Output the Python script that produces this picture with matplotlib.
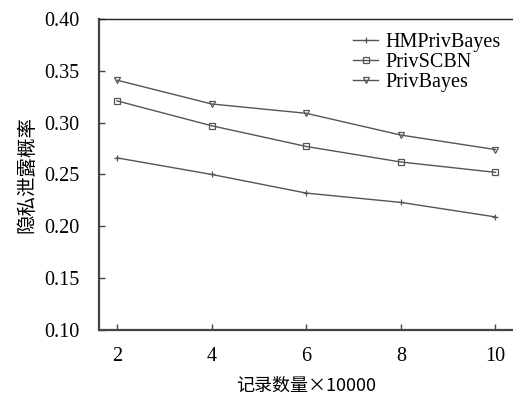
import matplotlib
matplotlib.use("Agg")
import matplotlib.pyplot as plt

# data
records = [2, 4, 6, 8, 10]
hm_privbayes = [0.266, 0.250, 0.232, 0.223, 0.209]
priv_scbn = [0.321, 0.297, 0.277, 0.262, 0.252]
priv_bayes = [0.341, 0.318, 0.309, 0.288, 0.274]
yticks = [0.10, 0.15, 0.20, 0.25, 0.30, 0.35, 0.40]
xticks = [2, 4, 6, 8, 10]

serif = ["Liberation Serif", "DejaVu Serif"]
cjk = ["Noto Sans CJK SC", "Liberation Serif"]

fig = plt.figure(figsize=(5.13, 3.96), dpi=100)
ax = fig.add_axes([0.193, 0.167, 0.807, 0.785])

line_col = "#555555"
ax.plot(records, hm_privbayes, color=line_col, lw=1.0, marker="+",
        ms=5, mew=0.9, label="HMPrivBayes")
ax.plot(records, priv_scbn, color=line_col, lw=1.0, marker="s",
        ms=4.5, mfc="none", mew=0.9, label="PrivSCBN")
ax.plot(records, priv_bayes, color=line_col, lw=1.0, marker="v",
        ms=5, mfc="none", mew=0.9, label="PrivBayes")

ax.set_xlim(1.62, 10.37)
ax.set_ylim(0.10, 0.40)
ax.set_xticks(xticks)
ax.set_yticks(yticks)
ax.set_yticklabels([f"{v:.2f}" for v in yticks])

for lab in ax.get_xticklabels() + ax.get_yticklabels():
    lab.set_fontfamily(serif)
    lab.set_fontsize(14.5)

ax.tick_params(direction="in", length=4, width=1.0, color="#444444")
ax.tick_params(axis="y", pad=14)
ax.tick_params(axis="x", pad=12)

ax.spines["right"].set_visible(False)
ax.spines["top"].set_linewidth(1.0)
ax.spines["top"].set_color("#222222")
for s in ["left", "bottom"]:
    ax.spines[s].set_linewidth(1.6)
    ax.spines[s].set_color("#444444")

ax.set_xlabel("记录数量×10000", family=cjk, fontsize=13, labelpad=8)
ax.set_ylabel("隐私泄露概率", family=cjk, fontsize=14, labelpad=5)

leg = ax.legend(loc="upper right", frameon=False, prop={"family": serif, "size": 14.5},
                handlelength=1.2, handletextpad=0.4, labelspacing=0.05,
                borderaxespad=0.2, bbox_to_anchor=(1.0, 0.995))

fig.savefig("out.png", dpi=100)
